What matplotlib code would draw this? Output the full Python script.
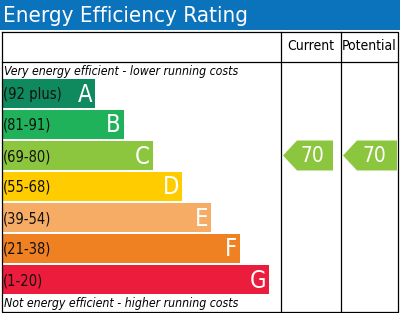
import matplotlib.pyplot as plt
from matplotlib.patches import Rectangle, Polygon

bands = ['A', 'B', 'C', 'D', 'E', 'F', 'G']
ranges = ['(92 plus)', '(81-91)', '(69-80)', '(55-68)', '(39-54)', '(21-38)', '(1-20)']
lower = [92, 81, 69, 55, 39, 21, 1]
colors = ['#0f8a5f', '#1fb25a', '#8cc63f', '#ffcc00', '#f7ac66', '#f08123', '#ec1c3c']
current = 70
potential = 70

FONT = dict(family='DejaVu Sans', fontstretch='condensed')


def band_index(value):
    for i, lo in enumerate(lower):
        if value >= lo:
            return i
    return len(lower) - 1


fig = plt.figure(figsize=(4, 3.13), dpi=100)
ax = fig.add_axes([0, 0, 1, 1])
ax.set_xlim(0, 400)
ax.set_ylim(313, 0)
ax.axis('off')

# title bar
ax.add_patch(Rectangle((0, 0), 400, 30, color='#0b72bc', lw=0))
ax.text(3, 16, 'Energy Efficiency Rating', color='white', fontsize=16,
        va='center', ha='left', **FONT)

# table frame
lc = 'black'
ax.plot([1.5, 397.5, 397.5, 1.5, 1.5], [31.5, 31.5, 312, 312, 31.5], color=lc, lw=0.9)
ax.plot([1.5, 397.5], [61.5, 61.5], color=lc, lw=0.9)
ax.plot([280.5, 280.5], [31.5, 312], color=lc, lw=0.9)
ax.plot([340.5, 340.5], [31.5, 312], color=lc, lw=0.9)
ax.text(310.5, 46.5, 'Current', fontsize=10, ha='center', va='center', **FONT)
ax.text(369, 46.5, 'Potential', fontsize=10, ha='center', va='center', **FONT)

ax.text(4, 71, 'Very energy efficient - lower running costs', fontsize=8.8,
        style='italic', ha='left', va='center', **FONT)
ax.text(4, 303, 'Not energy efficient - higher running costs', fontsize=8.8,
        style='italic', ha='left', va='center', **FONT)

# rating bands
ys = [93.5 + 31 * i for i in range(len(bands))]
widths = [93 + 29 * i for i in range(len(bands))]
ax.barh(ys, widths, left=2, height=29, color=colors, lw=0)
for i, (b, r) in enumerate(zip(bands, ranges)):
    ax.text(3, ys[i] + 1, r, fontsize=10.5, ha='left', va='center', color='#111111', **FONT)
    ax.text(2 + widths[i] - 3, ys[i] + 1, b, fontsize=17, ha='right', va='center',
            color='white', **FONT)


def arrow(x0, x1, value):
    i = band_index(value)
    y = ys[i]
    h = 15
    tip = 14
    pts = [(x0, y), (x0 + tip, y - h), (x1, y - h), (x1, y + h), (x0 + tip, y + h)]
    ax.add_patch(Polygon(pts, closed=True, color=colors[i], lw=0))
    ax.text((x0 + tip + x1) / 2 - 3, y + 1, str(value), fontsize=15, color='white',
            ha='center', va='center', **FONT)


arrow(283, 333, current)
arrow(343, 397, potential)

fig.savefig('out.png', dpi=100)
